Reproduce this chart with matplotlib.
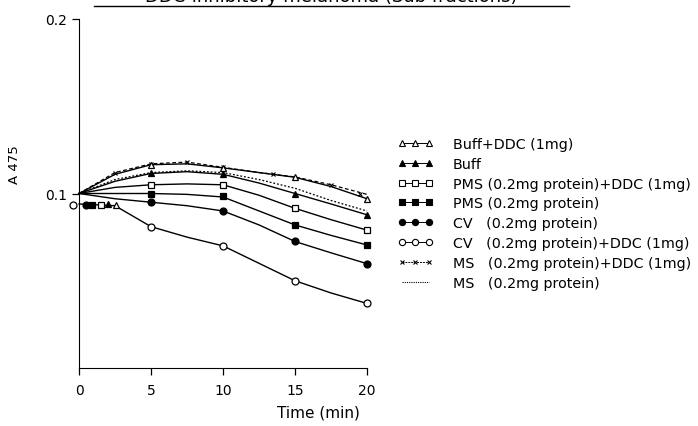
"""Absorbance at 475 nm over time for the sub fractions, with and without DDC."""

import matplotlib
matplotlib.use('Agg')
import matplotlib.pyplot as plt
from matplotlib.lines import Line2D


# curve readings (time in min, absorbance)
t_curve = [0, 2.5, 5, 7.5, 10, 12.5, 15, 17.5, 20]
buff_ddc = [0.100, 0.111, 0.1165, 0.117, 0.1147, 0.112, 0.1093, 0.104, 0.097]
buff = [0.100, 0.107, 0.1115, 0.1125, 0.111, 0.106, 0.100, 0.094, 0.0878]
pms_ddc = [0.100, 0.1035, 0.105, 0.1055, 0.105, 0.099, 0.0915, 0.085, 0.079]
pms = [0.100, 0.100, 0.100, 0.0995, 0.098, 0.090, 0.082, 0.076, 0.0705]
cv = [0.100, 0.097, 0.095, 0.093, 0.090, 0.082, 0.0725, 0.066, 0.0598]
cv_ddc = [0.094, 0.093, 0.081, 0.075, 0.070, 0.060, 0.050, 0.043, 0.037]
ms_ddc = [0.100, 0.112, 0.117, 0.118, 0.115, 0.112, 0.1095, 0.105, 0.0995]
ms = [0.100, 0.108, 0.112, 0.113, 0.112, 0.108, 0.103, 0.096, 0.090]

# measured points
t_meas = [5, 10, 15, 20]
buff_ddc_pts = [0.1165, 0.1147, 0.1093, 0.097]
buff_pts = [0.1115, 0.1109, 0.1000, 0.0878]
pms_ddc_pts = [0.105, 0.105, 0.0915, 0.079]
pms_pts = [0.100, 0.0983, 0.082, 0.0705]
cv_pts = [0.095, 0.0901, 0.0725, 0.0598]
cv_ddc_pts = [0.0808, 0.0698, 0.0498, 0.0372]
t_ms = [2.5, 5, 7.5, 10, 13.5, 17.5, 19.5]
ms_ddc_pts = [0.112, 0.117, 0.118, 0.115, 0.111, 0.105, 0.100]

# readings before the start (t, A)
pre_t = {'buff_ddc': 2.6, 'buff': 2.0, 'pms_ddc': 1.5, 'pms': 0.9,
         'cv': 0.5, 'cv_ddc': -0.45}
pre_a = {'buff_ddc': 0.0935, 'buff': 0.094, 'pms_ddc': 0.0935, 'pms': 0.0935,
         'cv': 0.0935, 'cv_ddc': 0.0935}

LABELS = {
    'buff_ddc': "Buff+DDC (1mg)",
    'buff': "Buff",
    'pms_ddc': "PMS (0.2mg protein)+DDC (1mg)",
    'pms': "PMS (0.2mg protein)",
    'cv': "CV   (0.2mg protein)",
    'cv_ddc': "CV   (0.2mg protein)+DDC (1mg)",
    'ms_ddc': "MS   (0.2mg protein)+DDC (1mg)",
    'ms': "MS   (0.2mg protein)"}


def main():
    plt.rc('font', family='DejaVu Sans', size=10)

    fig = plt.figure(figsize=(6.98, 4.27), dpi=100)
    ax = fig.add_axes([79/698, 1-369/427, 288/698, 349/427])

    # marker styles: (marker, facecolor)
    styles = {'buff_ddc': ('^', 'white'), 'buff': ('^', 'black'),
              'pms_ddc': ('s', 'white'), 'pms': ('s', 'black'),
              'cv': ('o', 'black'), 'cv_ddc': ('o', 'white')}
    curves = {'buff_ddc': buff_ddc, 'buff': buff, 'pms_ddc': pms_ddc,
              'pms': pms, 'cv': cv, 'cv_ddc': cv_ddc}
    points = {'buff_ddc': buff_ddc_pts, 'buff': buff_pts,
              'pms_ddc': pms_ddc_pts, 'pms': pms_pts, 'cv': cv_pts,
              'cv_ddc': cv_ddc_pts}

    # curves and measured points
    for key, (mk, fc) in styles.items():
        ax.plot(t_curve, curves[key], color='k', lw=1.0, clip_on=False)
        ax.plot(t_meas, points[key], ls='none', marker=mk, ms=5, mfc=fc,
                mec='k', mew=0.9, clip_on=False, zorder=3)
        ax.plot([pre_t[key]], [pre_a[key]], ls='none', marker=mk, ms=5,
                mfc=fc, mec='k', mew=0.9, clip_on=False, zorder=3)
    ax.plot(t_curve, ms_ddc, color='k', lw=0.9, ls=(0, (3, 2)),
            clip_on=False)
    ax.plot(t_ms, ms_ddc_pts, ls='none', marker='x', ms=3.5, mec='k',
            mew=0.8, clip_on=False)
    ax.plot(t_curve, ms, color='k', lw=0.9, ls=(0, (1.5, 1.5)),
            clip_on=False)

    # axes
    ax.set_xlim(0, 20)
    ax.set_ylim(0, 0.2)
    ax.spines['top'].set_visible(False)
    ax.spines['right'].set_visible(False)
    ax.set_xticks([0, 5, 10, 15, 20])
    ax.set_yticks([0.1, 0.2])
    ax.set_yticklabels(['0.1', '0.2'])
    ax.tick_params(direction='out', length=5, width=0.9, labelsize=10)
    ax.tick_params(axis='x', pad=6)
    ax.set_xlabel('Time (min)', fontsize=11)
    ax.xaxis.set_label_coords(0.83, -0.105)
    ax.set_ylabel('A 475', fontsize=9.5)
    ax.yaxis.set_label_coords(-0.2, 0.585)

    # legend
    handles = []
    for key in LABELS:
        if key in styles:
            mk, fc = styles[key]
            handles.append(Line2D([], [], color='k', lw=0.7,
                                  marker=mk, ms=4.5, mfc=fc, mec='k',
                                  mew=0.8))
        elif key == 'ms_ddc':
            handles.append(Line2D([], [], color='k', lw=0.7, ls=(0, (2, 1)),
                                  marker='x', ms=3.5, mec='k', mew=0.8))
        else:
            handles.append(Line2D([], [], color='k', lw=0.8,
                                  ls=(0, (1, 1))))
    fig.legend(handles, list(LABELS.values()), loc='upper left',
               bbox_to_anchor=(385/698, 1-125/427), frameon=False,
               numpoints=3, handlelength=2.45, handletextpad=1.4,
               labelspacing=0.41, fontsize=10.3)

    # title, mostly cut off by the top edge
    fig.text(331/698, 1-6/427, "DDC-inhibitory melanoma (Sub fractions)",
             ha='center', va='bottom', fontsize=13)
    fig.add_artist(Line2D([94/698, 569/698], [1-7/427, 1-7/427],
                          color='k', lw=1.0, transform=fig.transFigure))

    fig.savefig('out.png')
    plt.close(fig)


if __name__ == '__main__':
    main()
